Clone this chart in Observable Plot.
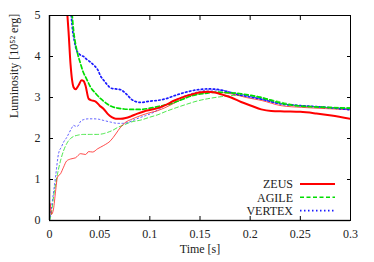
<!DOCTYPE html>
<html><head><meta charset="utf-8">
<script src="https://cdn.jsdelivr.net/npm/d3@7"></script>
<script src="https://cdn.jsdelivr.net/npm/@observablehq/plot@0.6"></script>
<style>body{margin:0;background:#fff}</style>
</head><body><div id="chart"></div>
<script>
const xTicks = [0, 0.05, 0.1, 0.15, 0.2, 0.25, 0.3];
const yTicks = [0, 1, 2, 3, 4, 5];
const codes = ["ZEUS", "AGILE", "VERTEX"];

// ZEUS (thick and thin curve)
const zeusThickT = [0.017,0.019,0.021,0.024,0.026,0.029,0.032,0.034,0.036,0.039,0.042,0.046,0.050,0.054,0.058,0.062,0.066,0.071,0.076,0.081,0.087,0.094,0.101,0.108,0.116,0.124,0.133,0.141,0.149,0.158,0.165,0.172,0.181,0.191,0.201,0.211,0.221,0.234,0.250,0.266,0.281,0.300];
const zeusThickL = [5.3,4.6,3.8,3.25,3.2,3.3,3.42,3.4,3.28,2.97,2.93,2.90,2.80,2.72,2.6,2.52,2.48,2.48,2.5,2.54,2.6,2.66,2.70,2.74,2.82,2.92,3.01,3.07,3.12,3.14,3.12,3.07,3.0,2.89,2.8,2.71,2.67,2.66,2.65,2.61,2.56,2.48];
const zeusThinT = [0,0.0005,0.002,0.004,0.006,0.008,0.011,0.014,0.017,0.021,0.026,0.031,0.036,0.039,0.043,0.048,0.054,0.061,0.066,0.071,0.076,0.081,0.091,0.100,0.108,0.121,0.133,0.145,0.158,0.170,0.183,0.196,0.211,0.231,0.251,0.275,0.300];
const zeusThinL = [0.05,0.42,0.15,0.28,0.7,1.06,1.14,1.3,1.45,1.5,1.53,1.63,1.61,1.68,1.67,1.75,1.83,1.95,2.11,2.28,2.40,2.46,2.56,2.63,2.68,2.82,2.97,3.07,3.12,3.12,3.08,3.0,2.93,2.8,2.76,2.73,2.70];

// AGILE
const agileThickT = [0.022,0.024,0.026,0.028,0.031,0.033,0.037,0.041,0.046,0.051,0.056,0.061,0.068,0.074,0.081,0.091,0.100,0.110,0.121,0.132,0.143,0.155,0.166,0.176,0.191,0.201,0.211,0.221,0.231,0.246,0.265,0.283,0.300];
const agileThickL = [5.2,4.63,4.3,4.07,3.82,3.66,3.45,3.25,3.1,2.97,2.87,2.79,2.74,2.72,2.71,2.71,2.74,2.79,2.85,2.95,3.05,3.10,3.13,3.12,3.09,3.05,3.0,2.93,2.86,2.8,2.77,2.75,2.74];
const agileThinT = [0,0.002,0.004,0.008,0.011,0.014,0.018,0.021,0.024,0.028,0.034,0.041,0.048,0.054,0.058,0.063,0.068,0.074,0.081,0.091,0.100,0.108,0.116,0.125,0.136,0.148,0.160,0.171,0.185,0.200,0.220,0.250,0.275,0.300];
const agileThinL = [0,0.2,0.57,1.14,1.46,1.7,1.91,2.0,2.05,2.08,2.1,2.1,2.1,2.12,2.15,2.2,2.27,2.33,2.4,2.45,2.52,2.58,2.66,2.74,2.83,2.92,2.98,3.02,3.05,3.05,2.95,2.80,2.77,2.75];

// VERTEX
const vertexThickT = [0.021,0.023,0.025,0.027,0.029,0.031,0.034,0.037,0.041,0.045,0.048,0.051,0.054,0.058,0.061,0.066,0.071,0.075,0.078,0.081,0.086,0.091,0.100,0.108,0.116,0.124,0.133,0.143,0.151,0.159,0.166,0.173,0.183,0.196,0.211,0.231,0.251,0.275,0.300];
const vertexThickL = [5.2,4.65,4.35,4.15,4.08,4.03,4.0,3.93,3.86,3.77,3.68,3.52,3.42,3.3,3.23,3.21,3.19,3.12,3.05,2.97,2.9,2.88,2.91,2.93,2.97,3.04,3.11,3.17,3.2,3.21,3.2,3.17,3.1,3.03,2.96,2.84,2.8,2.76,2.70];
const vertexThinT = [0,0.003,0.006,0.009,0.012,0.014,0.017,0.019,0.022,0.024,0.026,0.028,0.031,0.034,0.039,0.044,0.049,0.054,0.061,0.068,0.073,0.078,0.083,0.089,0.096,0.104,0.112,0.121,0.133,0.145,0.158,0.170,0.183,0.200,0.225,0.250,0.275,0.300];
const vertexThinL = [0,0.5,1.06,1.63,1.8,1.91,2.02,2.11,2.25,2.32,2.30,2.3,2.42,2.46,2.48,2.48,2.47,2.44,2.4,2.37,2.37,2.39,2.44,2.5,2.56,2.64,2.76,2.89,3.02,3.12,3.18,3.18,3.12,3.03,2.88,2.8,2.76,2.72];

const pts = (T, L) => T.map((t, i) => ({t, L: L[i]}));
const styles = {
  ZEUS:   {stroke: "#ff0000", dash: null},
  AGILE:  {stroke: "#00dd00", dash: "4,2.5"},
  VERTEX: {stroke: "#1a1aff", dash: "1.5,2.5"}
};
const thin = [["AGILE", agileThinT, agileThinL], ["VERTEX", vertexThinT, vertexThinL], ["ZEUS", zeusThinT, zeusThinL]];
const thick = [["VERTEX", vertexThickT, vertexThickL], ["AGILE", agileThickT, agileThickL], ["ZEUS", zeusThickT, zeusThickL]];

const lineMarks = [
  ...thin.map(([c, T, L]) => Plot.line(pts(T, L), {x: "t", y: "L", stroke: styles[c].stroke, strokeWidth: 1, strokeOpacity: 0.7, strokeDasharray: styles[c].dash, clip: true, curve: "monotone-x"})),
  ...thick.map(([c, T, L]) => Plot.line(pts(T, L), {x: "t", y: "L", stroke: styles[c].stroke, strokeWidth: c === "ZEUS" ? 2 : 1.7, strokeDasharray: styles[c].dash, clip: true, curve: "monotone-x"}))
];

const FONT = "Liberation Serif";
const chart = Plot.plot({
  width: 374, height: 262,
  marginLeft: 49, marginRight: 24, marginTop: 15, marginBottom: 42,
  style: {background: "white", color: "black", fontFamily: FONT, fontSize: "12px"},
  x: {domain: [0, 0.3]},
  y: {domain: [0, 5]},
  marks: [
    Plot.ruleX([0], {stroke: "#888", strokeWidth: 2}),
    Plot.ruleY([0], {stroke: "#555", strokeWidth: 1.5}),
    ...lineMarks,
    Plot.frame({stroke: "black"}),
    Plot.axisX(xTicks, {anchor: "bottom", tickSize: -4, fill: "none", label: null}),
    Plot.axisX(xTicks, {anchor: "top", tickSize: -4, fill: "none", label: null}),
    Plot.axisY(yTicks, {anchor: "left", tickSize: -4, fill: "none", label: null}),
    Plot.axisY(yTicks, {anchor: "right", tickSize: -4, fill: "none", label: null}),
    Plot.axisX(xTicks, {anchor: "bottom", tickSize: 0, tickPadding: 9, tickFormat: d => String(+d.toFixed(2)), label: null, fontSize: 12, fontFamily: FONT, fill: "#222"}),
    Plot.axisY(yTicks, {anchor: "left", tickSize: 0, tickPadding: 9, tickFormat: d => String(d), label: null, fontSize: 12, fontFamily: FONT, fill: "#222"}),
    Plot.text(["Time [s]"], {frameAnchor: "bottom", dy: 32, fontSize: 12, fontFamily: FONT, fill: "#222"}),
    Plot.text(["Luminosity [10⁵² erg]"], {frameAnchor: "left", dx: -35, rotate: -90, fontSize: 12, fontFamily: FONT, fill: "#222"})
  ]
});
chart.setAttribute("font-family", FONT);
document.getElementById("chart").appendChild(chart);

// legend (inside the frame, lower right)
const svg = d3.select(chart);
const lg = svg.append("g");
codes.forEach((c, i) => {
  const y = 184 + i * 13.3;
  lg.append("text").attr("x", 293).attr("y", y).attr("dy", "0.35em").attr("text-anchor", "end")
    .attr("font-family", FONT).attr("font-size", 12).attr("fill", "#222").text(c);
  lg.append("line").attr("x1", 300).attr("x2", 335).attr("y1", y).attr("y2", y)
    .attr("stroke", styles[c].stroke).attr("stroke-width", c === "ZEUS" ? 2 : 1.6)
    .attr("stroke-dasharray", styles[c].dash);
});
svg.selectAll("text").attr("font-family", FONT).style("font-family", FONT);
</script></body></html>
